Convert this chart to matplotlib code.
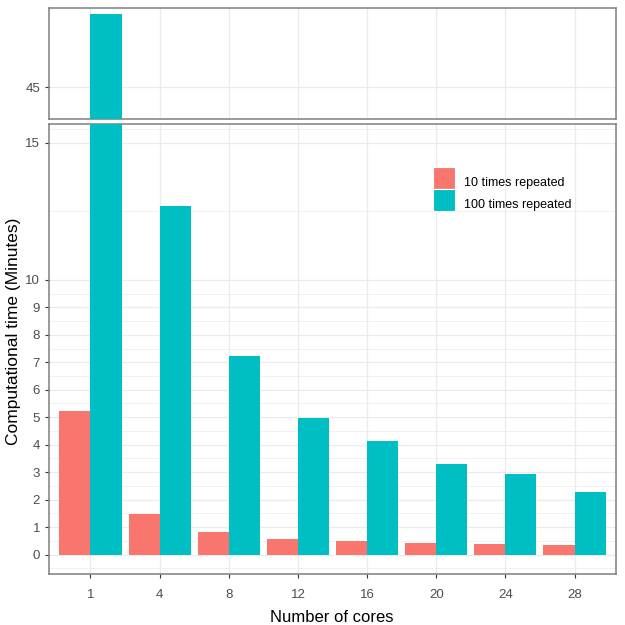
import matplotlib
matplotlib.use("Agg")
import matplotlib.pyplot as plt
import numpy as np

plt.rcParams["font.family"] = ["Liberation Sans", "DejaVu Sans"]

# data
cores = ["1", "4", "8", "12", "16", "20", "24", "28"]
rep10 = [5.24, 1.46, 0.83, 0.57, 0.50, 0.43, 0.40, 0.33]
rep100 = [48.0, 12.7, 7.24, 4.97, 4.14, 3.30, 2.95, 2.27]
series_labels = ["10 times repeated", "100 times repeated"]
low_ticks = [0, 1, 2, 3, 4, 5, 6, 7, 8, 9, 10, 15]
low_minor = [-0.5, 0.5, 1.5, 2.5, 3.5, 4.5, 5.5, 6.5, 7.5, 8.5, 9.5, 12.5, 15.5]
high_ticks = [45]

RED = "#F8766D"
TEAL = "#00BFC4"
GRID = "#EBEBEB"
BORDER = "#7F7F7F"
TICKCOL = "#4D4D4D"

W = H = 625
fig = plt.figure(figsize=(W / 100, H / 100), dpi=100)


def px_axes(x0, y0, x1, y1):
    # pixel box (top-left origin) -> figure axes
    return fig.add_axes([x0 / W, 1 - y1 / H, (x1 - x0) / W, (y1 - y0) / H])


ax_top = px_axes(49, 8, 616, 119)
ax_low = px_axes(49, 124, 616, 574)

x = np.arange(len(cores))
bw = 0.45

for ax in (ax_top, ax_low):
    ax.bar(x - bw / 2, rep10, width=bw, color=RED, label=series_labels[0], zorder=3)
    ax.bar(x + bw / 2, rep100, width=bw, color=TEAL, label=series_labels[1], zorder=3)
    ax.set_xlim(-0.6, len(cores) - 0.4)
    for v in x:
        ax.axvline(v, color=GRID, lw=0.9, zorder=1)
    for s in ax.spines.values():
        s.set_color(BORDER)
        s.set_linewidth(1.1)
    ax.tick_params(axis="y", colors="#333333", labelcolor=TICKCOL, labelsize=9.5,
                   length=3, width=0.8)
    ax.set_xticks(x)

# lower panel
ax_low.set_ylim(-0.71, 15.68)
ax_low.set_yticks(low_ticks)
for v in low_ticks:
    ax_low.axhline(v, color=GRID, lw=0.9, zorder=1)
for v in low_minor:
    ax_low.axhline(v, color=GRID, lw=0.5, zorder=1)
ax_low.set_xticklabels(cores)
ax_low.tick_params(axis="x", colors="#333333", labelcolor=TICKCOL, labelsize=9.5,
                   length=3, width=0.8, pad=8)

# upper panel
ax_top.set_ylim(43.69, 48.25)
ax_top.set_yticks(high_ticks)
for v in high_ticks:
    ax_top.axhline(v, color=GRID, lw=0.9, zorder=1)
ax_top.tick_params(axis="x", length=0, labelbottom=False)

leg = ax_low.legend(loc="upper left", bbox_to_anchor=((433 - 49) / 567, (574 - 167) / 450),
                    frameon=False, borderpad=0, borderaxespad=0,
                    fontsize=9, handlelength=1.75, handleheight=2.3, handletextpad=0.75,
                    labelspacing=0.0)
for h in leg.legend_handles:
    h.set_edgecolor("white")
    h.set_linewidth(0.8)
for t in leg.get_texts():
    t.set_va("center_baseline")

fig.text(14 / W, 1 - 331 / H, "Computational time (Minutes)", rotation=90,
         ha="center", va="center", fontsize=12.5)
fig.text(332 / W, 1 - 618 / H, "Number of cores", ha="center", va="center", fontsize=12)

fig.savefig("out.png", dpi=100, facecolor="white")
